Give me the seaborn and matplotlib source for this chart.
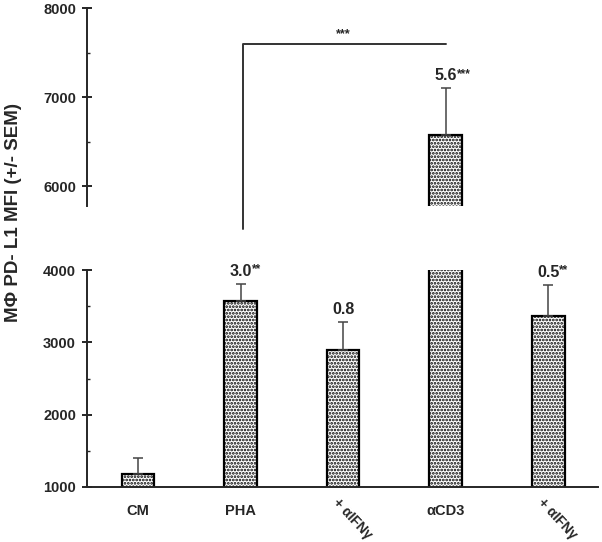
import matplotlib
matplotlib.use("Agg")
import matplotlib.pyplot as plt
import matplotlib.transforms as mtransforms
from matplotlib.ticker import MultipleLocator
import seaborn as sns
import pandas as pd

# data
groups = ["CM", "PHA", "PHA+aIFNg", "aCD3", "aCD3+aIFNg"]
tick_labels = ["CM", "PHA", "+ αIFNγ", "αCD3", "+ αIFNγ"]
mfi = [1180, 3580, 2890, 6580, 3370]
sem = [220, 235, 390, 520, 430]
fold = ["", "3.0", "0.8", "5.6", "0.5"]
stars = ["", "**", "", "***", "**"]

df = pd.DataFrame({"group": groups, "mfi": mfi, "sem": sem})

sns.set_style("white")
plt.rcParams["font.family"] = ["Liberation Sans", "DejaVu Sans"]
plt.rcParams["font.weight"] = "bold"
plt.rcParams["hatch.linewidth"] = 1.3
plt.rcParams["hatch.color"] = "#222222"

fig = plt.figure(figsize=(6.02, 5.42), dpi=100)
ax_top = fig.add_axes([0.1445, 0.620, 0.849, 0.365])
ax_bot = fig.add_axes([0.1445, 0.1015, 0.849, 0.400])

for ax in (ax_top, ax_bot):
    sns.barplot(data=df, x="group", y="mfi", order=groups, ax=ax, width=0.32,
                color="white", saturation=1, edgecolor="black", linewidth=1.6,
                errorbar=None)
    for p in ax.patches:
        p.set_hatch(".....")
    ax.errorbar(range(len(groups)), df["mfi"], yerr=[[0] * len(sem), df["sem"]],
                fmt="none", ecolor="#444444", elinewidth=1.1, capsize=3.5, capthick=1.1)
    ax.set_xlim(-0.4976, 4.487)
    ax.set_xlabel("")
    ax.set_ylabel("")
    for s in ("top", "right"):
        ax.spines[s].set_visible(False)
    ax.spines["left"].set_linewidth(1.4)
    ax.spines["bottom"].set_linewidth(1.4)
    ax.yaxis.set_minor_locator(MultipleLocator(500))
    ax.yaxis.set_major_locator(MultipleLocator(1000))
    ax.tick_params(axis="y", which="major", left=True, direction="inout", length=7,
                   width=1.4, pad=4.5, labelsize=10.5)
    ax.tick_params(axis="y", which="minor", left=True, direction="in", length=2.5, width=1.0)

ax_top.set_ylim(5780, 8000)
ax_top.spines["bottom"].set_visible(False)
ax_top.set_xticks([])
ax_bot.set_ylim(1000, 4000)

ax_bot.set_xticks(range(len(groups)))
ax_bot.set_xticklabels(tick_labels, fontsize=10.5, fontweight="bold")
ax_bot.tick_params(axis="x", length=0, pad=12)
shift = mtransforms.ScaledTranslation(-3 / 100, 8 / 100, fig.dpi_scale_trans)
for lab in ax_bot.get_xticklabels():
    if lab.get_text().startswith("+"):
        lab.set_rotation(-47)
        lab.set_rotation_mode("anchor")
        lab.set_ha("left")
        lab.set_va("top")
        lab.set_fontsize(10)
        lab.set_transform(lab.get_transform() + shift)

# fold-change labels above error bars
for i in range(len(groups)):
    if not fold[i]:
        continue
    ax = ax_top if mfi[i] > 4000 else ax_bot
    num = ax.annotate(fold[i], (i, mfi[i] + sem[i]), xytext=(0, 9), textcoords="offset points",
                      ha="center", va="center", fontsize=11.5, fontweight="bold",
                      annotation_clip=False)
    if stars[i]:
        ax.annotate(stars[i], xy=(1.0, 1.0), xycoords=num, ha="left", va="top",
                    fontsize=8.5, fontweight="bold", annotation_clip=False)

# significance bracket PHA vs aCD3
ax_top.plot([1.02, 1.02, 3.0], [5517, 7596, 7596], color="#333333", lw=1.4, clip_on=False)
ax_top.text(2.0, 7710, "***", ha="center", va="center", fontsize=9, fontweight="bold")

fig.text(0.022, 1 - 213 / 542, "MΦ PD- L1 MFI (+/- SEM)", rotation=90,
         ha="center", va="center", fontsize=13.5, fontweight="bold")

fig.savefig("out.png", dpi=100)
